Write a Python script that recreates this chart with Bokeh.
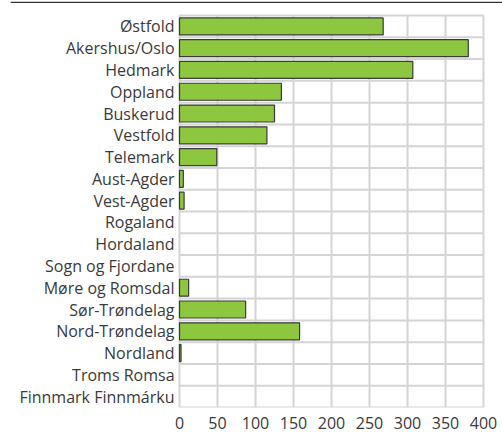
from bokeh.plotting import figure
from bokeh.models import ColumnDataSource, Range1d, FixedTicker, Span
from bokeh.core.properties import value
from bokeh.embed import file_html
from bokeh.resources import INLINE

categories = ["Østfold", "Akershus/Oslo", "Hedmark", "Oppland", "Buskerud", "Vestfold",
              "Telemark", "Aust-Agder", "Vest-Agder", "Rogaland", "Hordaland",
              "Sogn og Fjordane", "Møre og Romsdal", "Sør-Trøndelag", "Nord-Trøndelag",
              "Nordland", "Troms Romsa", "Finnmark Finnmárku"]
values = [268, 380, 307, 134, 125, 115, 49, 5, 6, 0, 0, 0, 12, 87, 158, 2, 0, 0]
x_ticks = [0, 50, 100, 150, 200, 250, 300, 350, 400]

FONT = "Open Sans"
TEXT = "#3a3a3a"
GRID = "#d4d4d4"

n = len(categories)
# row centres, first category on top
ypos = [n - i - 0.5 for i in range(n)]

src = ColumnDataSource(dict(
    y=ypos,
    cat=categories,
    val=values,
    la=[1.0 if v > 0 else 0.0 for v in values],
))

x0, x1 = x_ticks[0], x_ticks[-1]

p = figure(
    width=502, height=432,
    y_range=Range1d(0, n + 0.69),
    x_range=Range1d(-222.4, 425),
    output_backend="svg", toolbar_location=None,
    min_border_left=10, min_border_right=0, min_border_top=0, min_border_bottom=25,
)
p.outline_line_color = None
p.background_fill_color = "white"
p.border_fill_color = "white"
p.xgrid.grid_line_color = None
p.ygrid.grid_line_color = None
p.yaxis.visible = False

# grid cells: vertical lines at the value ticks, horizontal lines between rows
vgrid = ColumnDataSource(dict(x=x_ticks, y0=[0] * len(x_ticks), y1=[n] * len(x_ticks)))
p.segment(x0="x", x1="x", y0="y0", y1="y1", source=vgrid,
          line_color=GRID, line_width=2, level="underlay")
hgrid = ColumnDataSource(dict(y=list(range(n + 1))))
p.rect(x=(x0 + x1) / 2, y="y", width=x1 - x0, height=2, height_units="screen",
       source=hgrid, fill_color=GRID, line_color=None, level="underlay")

# bars
p.hbar(y="y", left=0, right="val", height=0.78, source=src,
       fill_color="#8dc63f", line_color="#3a3a3a", line_width=1.2, line_alpha="la")

# category labels
p.text(x=0, y="y", text="cat", source=src, x_offset=-5,
       text_align="right", text_baseline="middle",
       text_font=value(FONT), text_font_size=value("16px"), text_color=TEXT)

# top rule
p.add_layout(Span(location=n + 0.6, dimension="width", line_color="#333333", line_width=1.3))

# x axis
p.xaxis.ticker = FixedTicker(ticks=x_ticks)
p.xaxis.axis_line_color = None
p.xaxis.major_tick_line_color = None
p.xaxis.minor_tick_line_color = None
p.xaxis.major_label_standoff = 3
p.xaxis.major_label_text_font = FONT
p.xaxis.major_label_text_font_size = "16px"
p.xaxis.major_label_text_color = TEXT

open("out.html", "w").write(file_html(p, INLINE))
